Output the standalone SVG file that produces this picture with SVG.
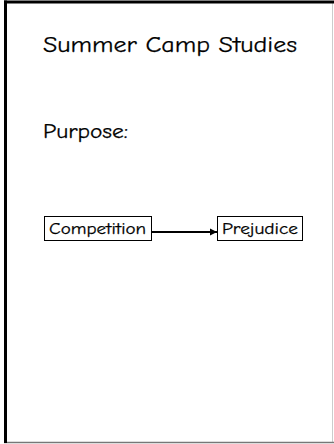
<svg xmlns="http://www.w3.org/2000/svg" width="334" height="444" viewBox="0 0 334 444">
<defs>
<style>
.t{font-family:"Comic Neue","DejaVu Sans","Noto Sans",sans-serif;fill:#000;stroke:#000;stroke-width:0.25}
.box{fill:#fff;stroke:#000;stroke-width:1}
</style>
<marker id="ah" markerWidth="8" markerHeight="8" refX="7" refY="4" orient="auto" markerUnits="userSpaceOnUse">
<path d="M0,0.5 L7,4 L0,7.5 Z" fill="#000"/>
</marker>
</defs>
<rect x="0" y="0" width="334" height="444" fill="#fff"/>
<g id="frame">
<line x1="332.5" y1="2" x2="332.5" y2="443" stroke="#ccc" stroke-width="1"/>
<line x1="4" y1="442.5" x2="334" y2="442.5" stroke="#777" stroke-width="1.5"/>
<line x1="4" y1="2" x2="334" y2="2" stroke="#000" stroke-width="3"/>
<line x1="5.5" y1="0.5" x2="5.5" y2="443" stroke="#000" stroke-width="3"/>
</g>
<g id="title"><text class="t" x="43" y="52" font-size="23" textLength="254" lengthAdjust="spacingAndGlyphs">Summer Camp Studies</text></g>
<g id="purpose"><text class="t" x="43" y="138" font-size="20.5" textLength="85" lengthAdjust="spacingAndGlyphs">Purpose:</text></g>
<g id="connectors">
<line x1="152" y1="232" x2="217" y2="232" stroke="#000" stroke-width="2" marker-end="url(#ah)"/>
</g>
<g id="competition">
<rect class="box" x="44.5" y="216.5" width="107" height="24"/>
<text class="t" x="49" y="234" font-size="16" textLength="97" lengthAdjust="spacingAndGlyphs">Competition</text>
</g>
<g id="prejudice">
<rect class="box" x="217.5" y="216.5" width="85" height="24"/>
<text class="t" x="222" y="234" font-size="16" textLength="76" lengthAdjust="spacingAndGlyphs">Prejudice</text>
</g>
</svg>
